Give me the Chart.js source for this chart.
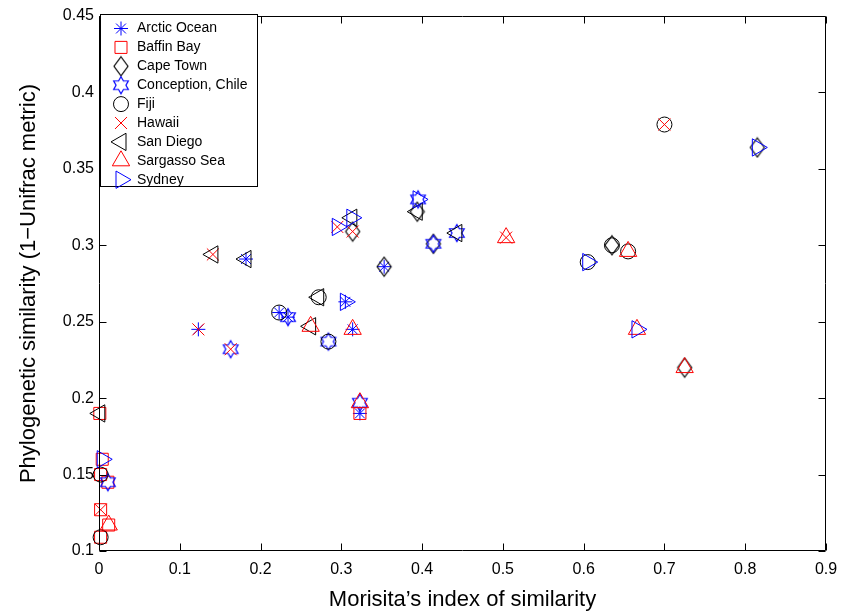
<!DOCTYPE html>
<html>
<head>
<meta charset="utf-8">
<script src="https://cdn.jsdelivr.net/npm/chart.js@4.4.0/dist/chart.umd.min.js"></script>
<style>
  html, body { margin: 0; padding: 0; background: #fff; }
  #wrap { width: 856px; height: 613px; }
</style>
</head>
<body>
<div id="wrap"><canvas id="scatter"></canvas></div>
<script>
'use strict';

// sampling sites (legend order)
const sites = ['Arctic Ocean', 'Baffin Bay', 'Cape Town', 'Conception, Chile', 'Fiji',
  'Hawaii', 'San Diego', 'Sargasso Sea', 'Sydney'];

// each point compares two sites; it is drawn with both sites' markers
const pairA = ['Fiji', 'Cape Town', 'Sargasso Sea', 'Cape Town', 'Fiji', 'Fiji', 'Sargasso Sea',
  'Cape Town', 'Arctic Ocean', 'Conception, Chile', 'San Diego', 'San Diego', 'Fiji',
  'Conception, Chile', 'Fiji', 'San Diego', 'Fiji', 'Sydney', 'Sargasso Sea', 'Sydney',
  'San Diego', 'Cape Town', 'Cape Town', 'Conception, Chile', 'Cape Town', 'Cape Town',
  'San Diego', 'San Diego', 'Sydney', 'Fiji', 'Conception, Chile', 'Hawaii', 'Sargasso Sea',
  'Fiji', 'Baffin Bay', 'Sargasso Sea'];
const pairB = ['Hawaii', 'Sydney', 'Hawaii', 'Fiji', 'Sargasso Sea', 'Sydney', 'Sydney',
  'Sargasso Sea', 'Hawaii', 'Hawaii', 'Hawaii', 'Arctic Ocean', 'Arctic Ocean', 'Arctic Ocean',
  'San Diego', 'Sargasso Sea', 'Conception, Chile', 'Arctic Ocean', 'Arctic Ocean', 'Hawaii',
  'Sydney', 'Hawaii', 'Arctic Ocean', 'Sydney', 'San Diego', 'Conception, Chile',
  'Conception, Chile', 'Baffin Bay', 'Baffin Bay', 'Baffin Bay', 'Baffin Bay', 'Baffin Bay',
  'Baffin Bay', 'Baffin Bay', 'Arctic Ocean', 'Conception, Chile'];

// Morisita's index (x) and phylogenetic similarity (y) per pair
const morisita = [0.700, 0.815, 0.504, 0.635, 0.655, 0.605, 0.666, 0.725, 0.123, 0.163, 0.141,
  0.182, 0.223, 0.234, 0.272, 0.262, 0.284, 0.305, 0.314, 0.295, 0.313, 0.314, 0.353, 0.395,
  0.394, 0.414, 0.443, 0.001, 0.004, 0.002, 0.011, 0.002, 0.012, 0.002, 0.323, 0.323];
const phylo = [0.379, 0.364, 0.305, 0.300, 0.296, 0.289, 0.245, 0.220, 0.245, 0.232, 0.294,
  0.291, 0.256, 0.253, 0.266, 0.247, 0.237, 0.263, 0.245, 0.312, 0.318, 0.309, 0.286, 0.330,
  0.322, 0.301, 0.308, 0.190, 0.160, 0.150, 0.145, 0.127, 0.117, 0.109, 0.190, 0.197];

const xTicks = [0, 0.1, 0.2, 0.3, 0.4, 0.5, 0.6, 0.7, 0.8, 0.9];
const yTicks = [0.1, 0.15, 0.2, 0.25, 0.3, 0.35, 0.4, 0.45];

const FONT = '"Liberation Sans", Arial, Helvetica, sans-serif';
const BLUE = '#0000ff', RED = '#ff0000', BLACK = '#000000';

// matlab-ish markers that chart.js doesn't have
function makeMarker(w, h, color, drawFn) {
  const c = document.createElement('canvas');
  c.width = w; c.height = h;
  const g = c.getContext('2d');
  g.strokeStyle = color;
  g.lineWidth = 1.2;
  g.beginPath();
  drawFn(g, w / 2, h / 2);
  g.closePath();
  g.stroke();
  return c;
}
const diamond = makeMarker(18, 22, BLACK, (g, cx, cy) => {
  g.moveTo(cx, cy - 9.5); g.lineTo(cx + 7, cy); g.lineTo(cx, cy + 9.5); g.lineTo(cx - 7, cy);
});
const hexagram = makeMarker(20, 22, BLUE, (g, cx, cy) => {
  const ro = 8.5, ri = ro / Math.sqrt(3);
  for (let i = 0; i < 12; i++) {
    const a = i * Math.PI / 6;
    const r = i % 2 ? ri : ro;
    const px = cx + Math.sin(a) * r, py = cy - Math.cos(a) * r;
    if (i === 0) g.moveTo(px, py); else g.lineTo(px, py);
  }
});

const markerStyle = {
  'Arctic Ocean':      { color: BLUE,  style: 'star',     radius: 7,   rotation: 0 },
  'Baffin Bay':        { color: RED,   style: 'rect',     radius: 8.5, rotation: 0 },
  'Cape Town':         { color: BLACK, style: diamond,    radius: 9,   rotation: 0 },
  'Conception, Chile': { color: BLUE,  style: hexagram,   radius: 9,   rotation: 0 },
  'Fiji':              { color: BLACK, style: 'circle',   radius: 7.5, rotation: 0 },
  'Hawaii':            { color: RED,   style: 'crossRot', radius: 8.5, rotation: 0 },
  'San Diego':         { color: BLACK, style: 'triangle', radius: 10,  rotation: -90 },
  'Sargasso Sea':      { color: RED,   style: 'triangle', radius: 10,  rotation: 0 },
  'Sydney':            { color: BLUE,  style: 'triangle', radius: 10,  rotation: 90 }
};

const datasets = sites.map((site, k) => {
  const pts = [];
  for (let i = 0; i < morisita.length; i++) {
    if (pairA[i] === site || pairB[i] === site) pts.push({ x: morisita[i], y: phylo[i] });
  }
  const m = markerStyle[site];
  return {
    label: site,
    data: pts,
    order: sites.length - k, // later sites on top, like matlab's hold on
    pointStyle: m.style,
    pointRadius: m.radius,
    pointRotation: m.rotation,
    pointBorderColor: m.color,
    pointBackgroundColor: 'rgba(0,0,0,0)',
    pointBorderWidth: 1,
    showLine: false,
    clip: false
  };
});

// box around the plot with inward ticks on all four sides
const boxTicks = {
  id: 'boxTicks',
  afterDatasetsDraw(chart) {
    const { ctx, chartArea: a, scales } = chart;
    const L = Math.round(a.left) + 0.5, R = Math.round(a.right) - 0.5;
    const T = Math.round(a.top) + 0.5, B = Math.round(a.bottom) - 0.5;
    const len = 7;
    ctx.save();
    ctx.strokeStyle = '#000';
    ctx.lineWidth = 1;
    ctx.beginPath();
    ctx.rect(L, T, R - L, B - T);
    xTicks.forEach(v => {
      const px = Math.round(scales.x.getPixelForValue(v)) + 0.5;
      ctx.moveTo(px, B); ctx.lineTo(px, B - len);
      ctx.moveTo(px, T); ctx.lineTo(px, T + len);
    });
    yTicks.forEach(v => {
      const py = Math.round(scales.y.getPixelForValue(v)) + 0.5;
      ctx.moveTo(L, py); ctx.lineTo(L + len, py);
      ctx.moveTo(R, py); ctx.lineTo(R - len, py);
    });
    ctx.stroke();
    ctx.restore();
  }
};

// matlab style legend box in the upper-left corner
const cornerLegend = {
  id: 'cornerLegend',
  afterDraw(chart) {
    const { ctx } = chart;
    const x0 = 100.5, y0 = 14.5, w = 157, h = 172;
    ctx.save();
    ctx.fillStyle = '#fff';
    ctx.strokeStyle = '#000';
    ctx.lineWidth = 1;
    ctx.fillRect(x0, y0, w, h);
    ctx.strokeRect(x0, y0, w, h);
    ctx.font = '14px ' + FONT;
    ctx.textBaseline = 'middle';
    sites.forEach((site, i) => {
      const m = markerStyle[site];
      const y = 28.5 + i * 18.9;
      ctx.strokeStyle = m.color;
      ctx.fillStyle = 'rgba(0,0,0,0)';
      ctx.lineWidth = 1;
      Chart.helpers.drawPoint(ctx, {
        pointStyle: m.style, radius: m.radius, rotation: m.rotation, borderWidth: 1
      }, 121, y);
      ctx.fillStyle = '#000';
      ctx.fillText(site, 137, y);
    });
    ctx.restore();
  }
};

new Chart(document.getElementById('scatter').getContext('2d'), {
  type: 'scatter',
  data: { datasets: datasets },
  plugins: [boxTicks, cornerLegend],
  options: {
    responsive: true,
    maintainAspectRatio: false,
    animation: false,
    events: [],
    layout: { padding: { left: 0, top: 16, right: 30, bottom: 0 } },
    plugins: { legend: { display: false }, tooltip: { enabled: false } },
    scales: {
      x: {
        type: 'linear',
        min: 0,
        max: 0.9,
        afterFit: s => { s.height = 62; },
        afterBuildTicks: s => { s.ticks = xTicks.map(v => ({ value: v })); },
        grid: { display: false, drawTicks: false },
        border: { display: false },
        ticks: {
          color: '#000',
          padding: 9,
          maxRotation: 0,
          font: { family: FONT, size: 16 },
          callback: v => String(+v.toFixed(2))
        },
        title: {
          display: true,
          text: 'Morisita’s index of similarity',
          color: '#000',
          font: { family: FONT, size: 22 },
          padding: { top: 0, bottom: 0 }
        }
      },
      y: {
        type: 'linear',
        min: 0.1,
        max: 0.45,
        afterFit: s => { s.width = 99; },
        afterBuildTicks: s => { s.ticks = yTicks.map(v => ({ value: v })); },
        grid: { display: false, drawTicks: false },
        border: { display: false },
        ticks: {
          color: '#000',
          padding: 5,
          font: { family: FONT, size: 16 },
          callback: v => String(+v.toFixed(2))
        },
        title: {
          display: true,
          text: 'Phylogenetic similarity (1−Unifrac metric)',
          color: '#000',
          font: { family: FONT, size: 22 },
          padding: { top: 16, bottom: 0 }
        }
      }
    }
  }
});
</script>
</body>
</html>
